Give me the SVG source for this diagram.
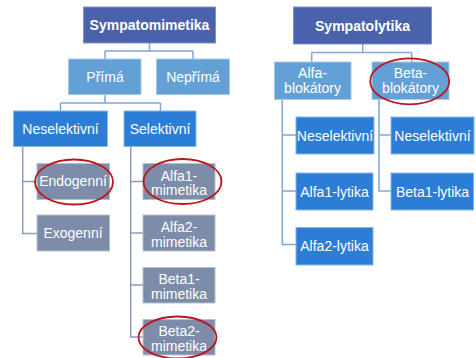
<svg xmlns="http://www.w3.org/2000/svg" width="476" height="358" viewBox="0 0 476 358">
<style>
text{font-family:"Liberation Sans",Arial,sans-serif;fill:#fff;text-anchor:middle;font-size:14px}
.t{font-weight:bold}
.top{fill:#4a61ac;stroke:#7e93cc;stroke-width:1}
.l1{fill:#62a0d6;stroke:#a9c8ea;stroke-width:1}
.l2{fill:#2b7dd6;stroke:#8ab6e8;stroke-width:1}
.g{fill:#7d8ca8;stroke:#b5bfd2;stroke-width:1}
.c{fill:none;stroke:#7fa7d9;stroke-width:1.5}
.cg{fill:none;stroke:#8e9bbd;stroke-width:1.5}
.o{fill:none;stroke:#c0141c;stroke-width:1.8}
</style>
<rect width="476" height="358" fill="#fff"/>
<g id="connectors">
<path class="c" d="M149.5 43V51M105 51H193M105 51V59M193 51V59"/>
<path class="c" d="M105 94.5V103M60.5 103H160.5M60.5 103V111M160.5 103V111"/>
<path class="cg" d="M22.7 147V233.5H37M22.7 181.5H37"/>
<path class="cg" d="M130.7 147V337H143M130.7 181.5H143M130.7 233H143M130.7 285H143"/>
<path class="c" d="M362.7 44V52.5M311.7 52.5H411.7M311.7 52.5V62M411.7 52.5V62"/>
<path class="c" d="M282.3 99.5V244.5H296M282.3 135H296M282.3 191H296"/>
<path class="c" d="M379 99.5V191H391M379 135H391"/>
</g>
<g id="sympatomimetika"><rect class="top" x="83.5" y="7" width="132" height="36"/><text class="t" x="149.5" y="30">Sympatomimetika</text></g>
<g id="prima"><rect class="l1" x="68.5" y="59" width="72.5" height="35.5"/><text x="105" y="81.5">Přímá</text></g>
<g id="neprima"><rect class="l1" x="156.5" y="59" width="73" height="35.5"/><text x="193" y="81.5">Nepřímá</text></g>
<g id="neselektivni-m"><rect class="l2" x="13.5" y="111" width="94" height="35.5"/><text x="60.5" y="133.5">Neselektivní</text></g>
<g id="selektivni"><rect class="l2" x="124" y="111" width="72" height="35.5"/><text x="160" y="133.5">Selektivní</text></g>
<g id="endogenni"><rect class="g" x="37" y="163.5" width="72.5" height="36"/><text x="73" y="186">Endogenní</text><ellipse class="o" cx="74" cy="182" rx="39" ry="22.5"/></g>
<g id="exogenni"><rect class="g" x="37" y="215" width="72.5" height="36"/><text x="73" y="237.5">Exogenní</text></g>
<g id="alfa1-mimetika"><rect class="g" x="143" y="163.5" width="72" height="36"/><text x="179" y="180.5">Alfa1-</text><text x="179" y="195">mimetika</text><ellipse class="o" cx="182.5" cy="181.5" rx="39" ry="22.5"/></g>
<g id="alfa2-mimetika"><rect class="g" x="143" y="215" width="72" height="36"/><text x="179" y="232">Alfa2-</text><text x="179" y="246.5">mimetika</text></g>
<g id="beta1-mimetika"><rect class="g" x="143" y="267.5" width="72" height="35.5"/><text x="179" y="284">Beta1-</text><text x="179" y="298.5">mimetika</text></g>
<g id="beta2-mimetika"><rect class="g" x="143" y="319.5" width="72" height="35.5"/><text x="179" y="336">Beta2-</text><text x="179" y="350.5">mimetika</text><ellipse class="o" cx="177.5" cy="337.5" rx="39" ry="21"/></g>
<g id="sympatolytika"><rect class="top" x="293.5" y="7" width="138" height="37"/><text class="t" x="362.5" y="30.5">Sympatolytika</text></g>
<g id="alfa-blokatory"><rect class="l1" x="274.5" y="62" width="76.5" height="37.5"/><text x="312.5" y="78">Alfa-</text><text x="312.5" y="92.5">blokátory</text></g>
<g id="beta-blokatory"><rect class="l1" x="372" y="62" width="77" height="37.5"/><text x="410.5" y="78">Beta-</text><text x="410.5" y="92.5">blokátory</text><ellipse class="o" cx="409.7" cy="81.3" rx="39.5" ry="23"/></g>
<g id="neselektivni-a"><rect class="l2" x="296" y="117" width="78" height="37"/><text x="335" y="140.5">Neselektivní</text></g>
<g id="alfa1-lytika"><rect class="l2" x="296" y="173" width="77" height="37"/><text x="334.5" y="196.5">Alfa1-lytika</text></g>
<g id="alfa2-lytika"><rect class="l2" x="296" y="227.5" width="77" height="37.5"/><text x="334.5" y="251">Alfa2-lytika</text></g>
<g id="neselektivni-b"><rect class="l2" x="391" y="117" width="83" height="37"/><text x="432.5" y="140.5">Neselektivní</text></g>
<g id="beta1-lytika"><rect class="l2" x="391" y="173" width="82.5" height="37"/><text x="432.5" y="196.5">Beta1-lytika</text></g>
</svg>
